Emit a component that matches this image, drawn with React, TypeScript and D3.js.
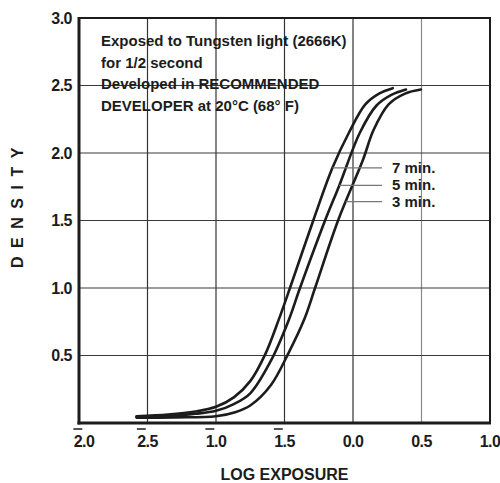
import React from 'react';
import * as d3 from 'd3';

// characteristic curves: [log exposure, density]
const curve7min: [number, number][] = [
    [-1.58, 0.05], [-1.35, 0.062], [-1.15, 0.085], [-1.0, 0.12], [-0.87, 0.19], [-0.75, 0.31],
    [-0.64, 0.51], [-0.544, 0.76], [-0.46, 1.0], [-0.29, 1.5], [-0.15, 1.89], [-0.03, 2.15],
    [0.09, 2.36], [0.19, 2.44], [0.29, 2.48],
];
const curve5min: [number, number][] = [
    [-1.58, 0.045], [-1.35, 0.052], [-1.15, 0.068], [-1.0, 0.09], [-0.87, 0.14], [-0.75, 0.22],
    [-0.6, 0.46], [-0.47, 0.76], [-0.387, 1.0], [-0.204, 1.5], [-0.1, 1.76], [0.05, 2.15],
    [0.17, 2.35], [0.28, 2.43], [0.387, 2.47],
];
const curve3min: [number, number][] = [
    [-1.58, 0.04], [-1.3, 0.042], [-1.0, 0.05], [-0.86, 0.08], [-0.75, 0.13], [-0.6, 0.28],
    [-0.47, 0.52], [-0.355, 0.77], [-0.277, 1.0], [-0.109, 1.5], [0.073, 1.95], [0.15, 2.17],
    [0.26, 2.36], [0.38, 2.44], [0.496, 2.47],
];

const seriesLabels = ["7 min.", "5 min.", "3 min."];
// density where each label's leader line meets its curve
const labelDensities = [1.89, 1.76, 1.64];

const xTicks = [-2.0, -1.5, -1.0, -0.5, 0.0, 0.5, 1.0];
const xTickLabels = ["2.0", "2.5", "1.0", "1.5", "0.0", "0.5", "1.0"];
const xTickBarred = [true, true, true, true, false, false, false];
const yTicks = [0.5, 1.0, 1.5, 2.0, 2.5, 3.0];

const noteLines = [
    "Exposed to Tungsten light (2666K)",
    "for 1/2 second",
    "Developed in RECOMMENDED",
    "DEVELOPER at 20°C (68° F)",
];

const x_label = "LOG EXPOSURE";
const y_label = "DENSITY";

const font = "'Liberation Sans', Arial, Helvetica, sans-serif";
const ink = "#1c1c1c";

export default function App() {
    const margin = { top: 18, right: 10, bottom: 60, left: 79 };
    const width = 500;
    const height = 483;
    const innerW = 411;
    const innerH = 405;

    const xScale = d3.scaleLinear().domain([-2, 1]).range([margin.left, margin.left + innerW]);
    const yScale = d3.scaleLinear().domain([0, 3]).range([margin.top + innerH, margin.top]);

    const line = d3.line<[number, number]>()
        .x(d => xScale(d[0]))
        .y(d => yScale(d[1]))
        .curve(d3.curveCatmullRom.alpha(0.5));

    const series = [curve7min, curve5min, curve3min];

    // find x on a curve for a given density (linear between points)
    const xAtDensity = (c: [number, number][], dens: number) => {
        for (let i = 1; i < c.length; i++) {
            if (c[i][1] >= dens) {
                const t = (dens - c[i - 1][1]) / (c[i][1] - c[i - 1][1]);
                return c[i - 1][0] + t * (c[i][0] - c[i - 1][0]);
            }
        }
        return c[c.length - 1][0];
    };

    const x0 = xScale(-2), x1 = xScale(1);
    const y0 = yScale(0), y1 = yScale(3);
    const tickFs = 16;
    const labelX = 382;

    return (
        <svg width={width} height={height} style={{ position: 'absolute', left: 0, top: 0, background: '#fff' }}
            fontFamily={font} fontWeight="bold">
            {/* grid */}
            {xTicks.slice(1, -1).map((t, i) => (
                <line key={'gx' + i} x1={xScale(t)} x2={xScale(t)} y1={y1} y2={y0}
                    stroke={t === 0.5 ? "#8a8a8a" : "#333"} strokeWidth={1.2} />
            ))}
            {yTicks.slice(0, -1).map((t, i) => (
                <line key={'gy' + i} x1={x0} x2={x1} y1={yScale(t)} y2={yScale(t)} stroke="#3a3a3a" strokeWidth={1.2} />
            ))}

            {/* frame */}
            <rect x={x0} y={y1} width={x1 - x0} height={y0 - y1} fill="none" stroke={ink} strokeWidth={2} />
            <line x1={x0} x2={x0} y1={y1 - 1} y2={y0 + 1.5} stroke={ink} strokeWidth={3} />
            <line x1={x0 - 1.5} x2={x1 + 1} y1={y0} y2={y0} stroke={ink} strokeWidth={3} />

            {/* y tick labels */}
            {yTicks.map((t, i) => (
                <text key={'yt' + i} x={72} y={yScale(t)} dy="0.36em" textAnchor="end" fontSize={tickFs}
                    fill={ink} letterSpacing={-0.5}>{t.toFixed(1)}</text>
            ))}

            {/* x tick labels, with bar notation for negative characteristics */}
            {xTicks.map((t, i) => {
                const cx = xScale(t) + (i === 0 ? 5 : 0);
                const w = 1.39 * tickFs - 1;
                return (
                    <g key={'xt' + i}>
                        <text x={cx} y={447} textAnchor="middle" fontSize={tickFs} fill={ink} letterSpacing={-0.5}>
                            {xTickLabels[i]}
                        </text>
                        {xTickBarred[i] && (
                            <line x1={cx - w / 2} x2={cx - w / 2 + 0.556 * tickFs} y1={429} y2={429}
                                stroke={ink} strokeWidth={1.5} />
                        )}
                    </g>
                );
            })}

            {/* note text */}
            {noteLines.map((s, i) => (
                <text key={'n' + i} x={101} y={46 + i * 21.5} fontSize={15} fill={ink}>{s}</text>
            ))}

            {/* curves */}
            {series.map((c, i) => (
                <path key={'c' + i} d={line(c) ?? ''} fill="none" stroke={ink} strokeWidth={2.6} strokeLinecap="round" />
            ))}

            {/* leader lines + labels */}
            {series.map((c, i) => {
                const ly = yScale(labelDensities[i]);
                return (
                    <g key={'l' + i}>
                        <line x1={xScale(xAtDensity(c, labelDensities[i]))} x2={labelX} y1={ly} y2={ly}
                            stroke="#777" strokeWidth={1.3} />
                        <text x={labelX + 10} y={ly + 5} fontSize={15} fill={ink}>{seriesLabels[i]}</text>
                    </g>
                );
            })}

            {/* axis titles */}
            <text x={(x0 + x1) / 2} y={480} textAnchor="middle" fontSize={16} fill={ink}>{x_label}</text>
            <text transform="translate(23, 268) rotate(-90)" textAnchor="start" fontSize={16} fill={ink}
                letterSpacing={8.5}>{y_label}</text>
        </svg>
    );
}
